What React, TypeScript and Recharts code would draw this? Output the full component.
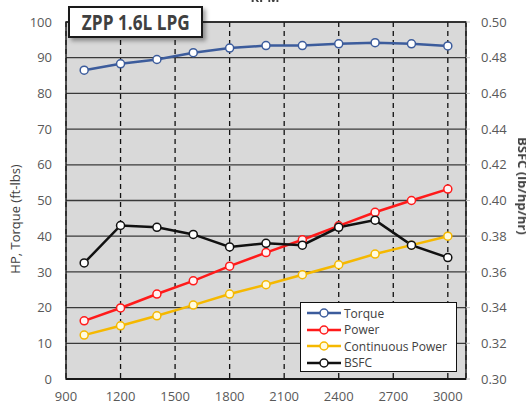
import React from "react";
import {
  ComposedChart,
  Line,
  XAxis,
  YAxis,
  CartesianGrid,
  Legend,
  ReferenceArea,
} from "recharts";

const rpm = [1000, 1200, 1400, 1600, 1800, 2000, 2200, 2400, 2600, 2800, 3000];
const torque = [86.5, 88.3, 89.5, 91.4, 92.7, 93.4, 93.4, 93.9, 94.2, 93.9, 93.3];
const power = [16.3, 19.9, 23.8, 27.5, 31.6, 35.4, 39.0, 42.9, 46.7, 50.0, 53.2];
const contPower = [12.3, 14.9, 17.7, 20.7, 23.8, 26.4, 29.2, 32.0, 35.0, 37.5, 40.0];
const bsfc = [0.365, 0.386, 0.385, 0.381, 0.374, 0.376, 0.375, 0.385, 0.389, 0.375, 0.368];

const xTicks = [900, 1200, 1500, 1800, 2100, 2400, 2700, 3000];
const leftTicks = [0, 10, 20, 30, 40, 50, 60, 70, 80, 90, 100];
const rightTicks = [0.3, 0.32, 0.34, 0.36, 0.38, 0.4, 0.42, 0.44, 0.46, 0.48, 0.5];

const series = [
  { key: "torque", name: "Torque", color: "#3c5c9c", fill: "#ffffff", axis: "left" },
  { key: "power", name: "Power", color: "#ff1a1a", fill: "#fff4f4", axis: "left" },
  { key: "contPower", name: "Continuous Power", color: "#f5b800", fill: "#fffbe0", axis: "left" },
  { key: "bsfc", name: "BSFC", color: "#111111", fill: "#ffffff", axis: "right" },
];

const data = rpm.map((r, i) => ({
  rpm: r,
  torque: torque[i],
  power: power[i],
  contPower: contPower[i],
  bsfc: bsfc[i],
}));

const font = "'Open Sans', sans-serif";
const tickStyle = { fontSize: 13, fill: "#595959", fontFamily: font };

function LegendBox() {
  return (
    <div
      style={{
        background: "#fff",
        border: "1.5px solid #111",
        boxSizing: "border-box",
        width: 157,
        height: 70,
        padding: "2px 0 0 6px",
        fontFamily: font,
        fontSize: 12,
        color: "#404040",
        whiteSpace: "nowrap",
      }}
    >
      {series.map((s) => (
        <div key={s.key} style={{ display: "flex", alignItems: "center", height: 16.5 }}>
          <svg width={36} height={12} style={{ marginRight: 1, flex: "none" }}>
            <line x1={0} y1={6} x2={34} y2={6} stroke={s.color} strokeWidth={2.5} />
            <circle cx={17} cy={6} r={4} fill={s.fill} stroke={s.color} strokeWidth={1.5} />
          </svg>
          <span>{s.name}</span>
        </div>
      ))}
    </div>
  );
}

export default function App() {
  return (
    <div style={{ position: "fixed", left: 0, top: 0, width: 526, height: 408, background: "#fff" }}>
      <ComposedChart
        width={526}
        height={408}
        data={data}
        margin={{ top: 22, right: 0, bottom: 0, left: 0 }}
      >
        <CartesianGrid
          horizontal
          vertical={false}
          fill="#d9d9d9"
          stroke="#3a3a3a"
          strokeWidth={1.3}
          yAxisId="left"
        />
        <CartesianGrid
          horizontal={false}
          vertical
          stroke="#111"
          strokeWidth={1.3}
          strokeDasharray="5 4"
          yAxisId="left"
        />
        <XAxis
          dataKey="rpm"
          type="number"
          domain={[900, 3100]}
          ticks={xTicks}
          height={29}
          tick={tickStyle}
          tickLine={false}
          tickSize={0}
          tickMargin={13}
          axisLine={{ stroke: "#111", strokeWidth: 1.5 }}
        />
        <YAxis
          yAxisId="left"
          domain={[0, 100]}
          ticks={leftTicks}
          width={66}
          tick={tickStyle}
          tickLine={false}
          tickSize={0}
          tickMargin={14}
          axisLine={false}
        />
        <YAxis
          yAxisId="right"
          orientation="right"
          domain={[0.3, 0.5]}
          ticks={rightTicks}
          width={60}
          tick={tickStyle}
          tickFormatter={(v: number) => v.toFixed(2)}
          tickLine={{ stroke: "#bfbfbf" }}
          tickSize={4}
          tickMargin={11}
          axisLine={false}
        />
        <ReferenceArea
          yAxisId="left"
          x1={900}
          x2={3100}
          y1={0}
          y2={100}
          fill="none"
          stroke="#222"
          strokeWidth={1.5}
          ifOverflow="visible"
        />
        {series.map((s) => (
          <Line
            key={s.key}
            yAxisId={s.axis}
            dataKey={s.key}
            name={s.name}
            type="linear"
            stroke={s.color}
            strokeWidth={2.5}
            dot={{ r: 4, fill: s.fill, stroke: s.color, strokeWidth: 1.5 }}
            activeDot={false}
            isAnimationActive={false}
          />
        ))}
        <Legend
          layout="vertical"
          align="center"
          verticalAlign="middle"
          content={() => <LegendBox />}
          wrapperStyle={{ position: "absolute", left: 300, top: 302, width: 157, height: 70 }}
        />
      </ComposedChart>

      <div
        style={{
          position: "absolute",
          left: 68,
          top: 6,
          width: 135,
          height: 32,
          boxSizing: "border-box",
          border: "2.5px solid #1a1a1a",
          background: "#fff",
          boxShadow: "3px 3px 4px rgba(0,0,0,0.35)",
          display: "flex",
          alignItems: "center",
          justifyContent: "center",
          fontFamily: font,
          fontWeight: 700,
          fontSize: 21,
          color: "#404040",
          overflow: "hidden",
        }}
      >
        <span style={{ display: "inline-block", transform: "scaleX(0.82)", whiteSpace: "nowrap" }}>
          ZPP 1.6L LPG
        </span>
      </div>

      <div
        style={{
          position: "absolute",
          left: 240,
          top: -12,
          width: 50,
          textAlign: "center",
          fontFamily: font,
          fontSize: 13,
          fontWeight: 700,
          color: "#404040",
        }}
      >
        RPM
      </div>

      <div
        style={{
          position: "absolute",
          left: 15,
          top: 219,
          transform: "translate(-50%, -50%) rotate(-90deg)",
          whiteSpace: "nowrap",
          fontFamily: font,
          fontSize: 13,
          color: "#404040",
        }}
      >
        HP, Torque (ft-lbs)
      </div>

      <div
        style={{
          position: "absolute",
          left: 523,
          top: 186,
          transform: "translate(-50%, -50%) rotate(90deg)",
          whiteSpace: "nowrap",
          fontFamily: font,
          fontSize: 13,
          fontWeight: 700,
          color: "#404040",
        }}
      >
        BSFC (lb/hp/hr)
      </div>
    </div>
  );
}
